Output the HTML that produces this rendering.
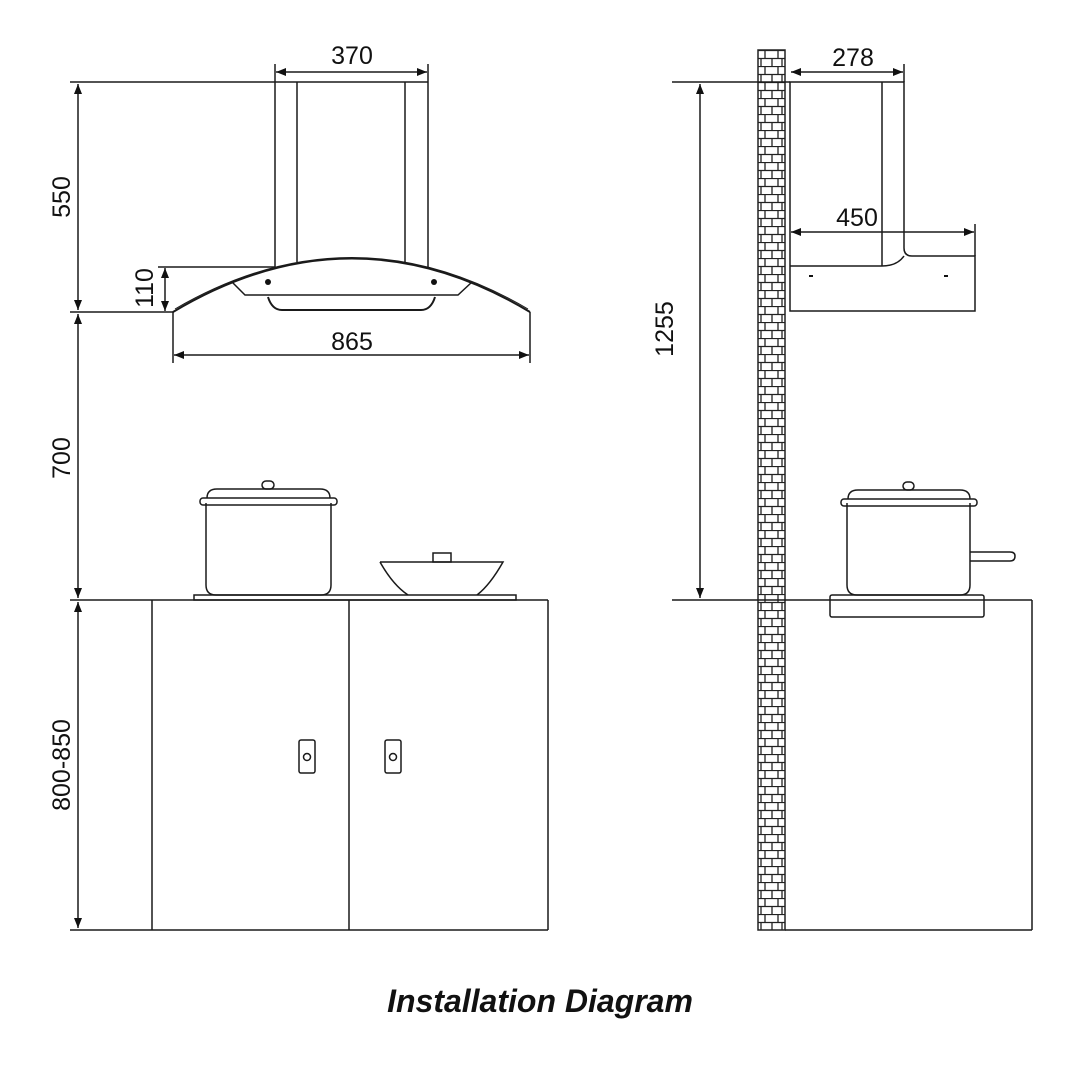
<!DOCTYPE html>
<html><head><style>
html,body{margin:0;padding:0;background:#fff;}
svg{display:block}
text{font-family:"Liberation Sans",sans-serif;fill:#111;}
</style></head><body>
<svg width="1080" height="1080" viewBox="0 0 1080 1080" xmlns="http://www.w3.org/2000/svg">
<defs>
<marker id="a" viewBox="0 0 10 10" refX="10" refY="5" markerWidth="10" markerHeight="10" markerUnits="userSpaceOnUse" orient="auto-start-reverse"><path d="M0,1 L10,5 L0,9 Z" fill="#111"/></marker>
<pattern id="brick" x="758" y="50" width="27" height="16" patternUnits="userSpaceOnUse">
<rect width="27" height="16" fill="#fff"/>
<path d="M0,0.5H27 M0,8.5H27 M7,0V8 M20,0V8 M3,8V16 M14,8V16 M24,8V16" stroke="#222" stroke-width="1.3" fill="none"/>
</pattern>
</defs>
<g fill="none" stroke="#1a1a1a" stroke-width="1.5">
<line x1="70" y1="82" x2="275" y2="82"/>
<line x1="70" y1="312" x2="173" y2="312"/>
<line x1="70" y1="600" x2="548" y2="600"/>
<line x1="70" y1="930" x2="548" y2="930"/>
<line x1="78" y1="84" x2="78" y2="310" marker-start="url(#a)" marker-end="url(#a)"/>
<line x1="78" y1="314" x2="78" y2="598" marker-start="url(#a)" marker-end="url(#a)"/>
<line x1="78" y1="602" x2="78" y2="928" marker-start="url(#a)" marker-end="url(#a)"/>
<line x1="158" y1="267" x2="275" y2="267"/>
<line x1="165" y1="268" x2="165" y2="311" marker-start="url(#a)" marker-end="url(#a)"/>
<line x1="275" y1="64" x2="275" y2="82"/>
<line x1="428" y1="64" x2="428" y2="82"/>
<line x1="276" y1="72" x2="427" y2="72" marker-start="url(#a)" marker-end="url(#a)"/>
<line x1="173" y1="312" x2="173" y2="363"/>
<line x1="530" y1="312" x2="530" y2="363"/>
<line x1="174" y1="355" x2="529" y2="355" marker-start="url(#a)" marker-end="url(#a)"/>
<line x1="275" y1="82" x2="428" y2="82"/>
<line x1="275" y1="82" x2="275" y2="267"/>
<line x1="428" y1="82" x2="428" y2="268"/>
<line x1="297" y1="82" x2="297" y2="262"/>
<line x1="405" y1="82" x2="405" y2="262"/>
<path d="M173,312 Q352,205 530,312" stroke-width="2"/>
<path d="M175,309 Q352,206 528,309" stroke-width="1"/>
<path d="M232,282 L245,295 L458,295 L472,282"/>
<path d="M268,297 Q272,310 282,310 L421,310 Q431,310 435,297" stroke-width="2"/>
<rect x="194" y="595" width="322" height="5"/>
<path d="M206,503 V585 Q206,595 216,595 H321 Q331,595 331,585 V503"/>
<rect x="200" y="498" width="137" height="7" rx="3"/>
<path d="M207,498 Q207,489 217,489 H320 Q330,489 330,498"/>
<rect x="262" y="481" width="12" height="8" rx="4"/>
<path d="M380,562 H503 Q490,585 477,595 M380,562 Q393,585 408,595"/>
<rect x="433" y="553" width="18" height="9"/>
<line x1="152" y1="600" x2="152" y2="930"/>
<line x1="548" y1="600" x2="548" y2="930"/>
<line x1="349" y1="600" x2="349" y2="930"/>
<rect x="299" y="740" width="16" height="33" rx="2"/>
<circle cx="307" cy="757" r="3.5"/>
<rect x="385" y="740" width="16" height="33" rx="2"/>
<circle cx="393" cy="757" r="3.5"/>
</g>
<circle cx="268" cy="282" r="3" fill="#111"/>
<circle cx="434" cy="282" r="3" fill="#111"/>
<rect x="758" y="50" width="27" height="880" fill="url(#brick)" stroke="#222" stroke-width="1.5"/>
<g fill="none" stroke="#1a1a1a" stroke-width="1.5">
<line x1="672" y1="82" x2="790" y2="82"/>
<line x1="672" y1="600" x2="1032" y2="600"/>
<line x1="700" y1="84" x2="700" y2="598" marker-start="url(#a)" marker-end="url(#a)"/>
<line x1="904" y1="64" x2="904" y2="82"/>
<line x1="791" y1="72" x2="903" y2="72" marker-start="url(#a)" marker-end="url(#a)"/>
<path d="M790,82 H904 V248 Q904,256 912,256 H975 V311 H790 Z"/>
<path d="M790,266 H882 Q897,266 904,256"/>
<line x1="882" y1="82" x2="882" y2="266"/>
<line x1="975" y1="224" x2="975" y2="256"/>
<line x1="791" y1="232" x2="974" y2="232" marker-start="url(#a)" marker-end="url(#a)"/>
<rect x="830" y="595" width="154" height="22" rx="2"/>
<path d="M847,503 V585 Q847,595 857,595 H960 Q970,595 970,585 V503"/>
<rect x="841" y="499" width="136" height="7" rx="3"/>
<path d="M848,499 Q848,490 858,490 H960 Q970,490 970,499"/>
<rect x="903" y="482" width="11" height="8" rx="4"/>
<path d="M970,552 H1010 Q1015,552 1015,556 Q1015,561 1010,561 H970"/>
<line x1="1032" y1="600" x2="1032" y2="930"/>
<line x1="785" y1="930" x2="1032" y2="930"/>
</g>
<rect x="809" y="275" width="4" height="2" fill="#111"/>
<rect x="944" y="275" width="4" height="2" fill="#111"/>
<g font-size="25" text-anchor="middle">
<text x="352" y="64">370</text>
<text x="352" y="350">865</text>
<text x="853" y="66">278</text>
<text x="857" y="226">450</text>
<text transform="translate(70,197) rotate(-90)">550</text>
<text transform="translate(153,288) rotate(-90)">110</text>
<text transform="translate(70,458) rotate(-90)">700</text>
<text transform="translate(70,765) rotate(-90)">800-850</text>
<text transform="translate(673,329) rotate(-90)">1255</text>
</g>
<text x="540" y="1012" font-size="32" font-weight="bold" font-style="italic" text-anchor="middle">Installation Diagram</text>
</svg>
</body></html>
